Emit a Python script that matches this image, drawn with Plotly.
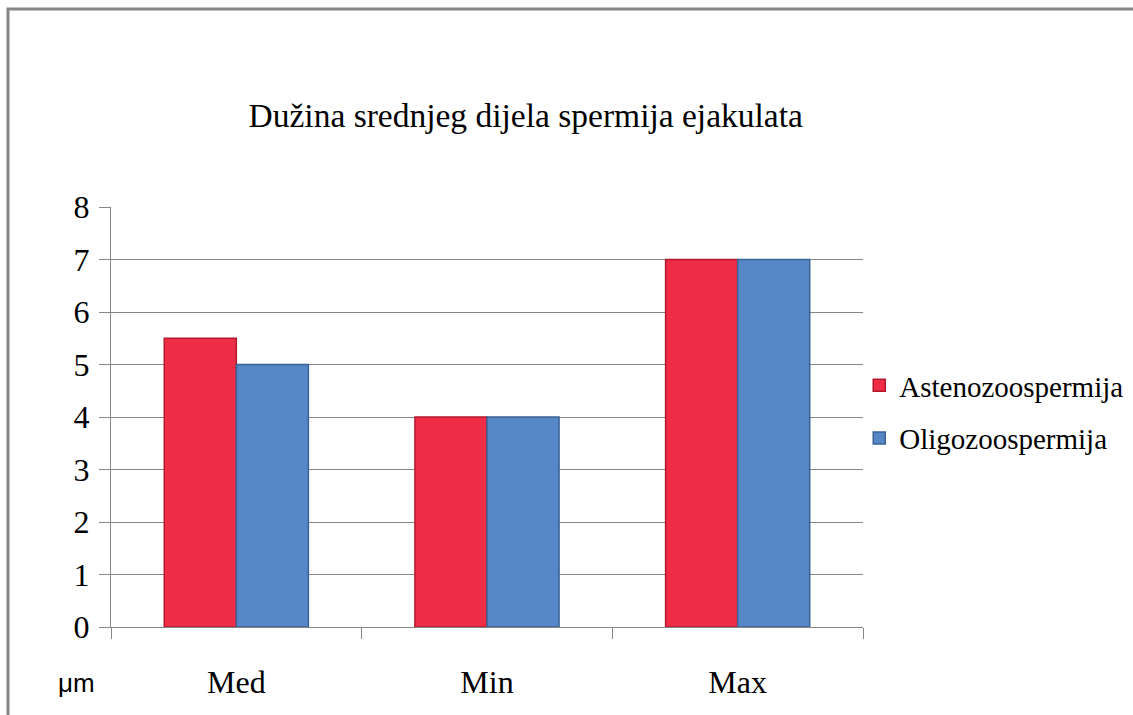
import plotly.graph_objects as go

categories = ["Med", "Min", "Max"]
asteno = [5.5, 4, 7]
oligo = [5, 4, 7]
series_names = ["Astenozoospermija", "Oligozoospermija"]
y_ticks = [0, 1, 2, 3, 4, 5, 6, 7, 8]

font_name = "Liberation Serif"
grid_col = "#868686"

fig = go.Figure()
fig.add_trace(go.Bar(x=categories, y=asteno, name=series_names[0],
                     marker=dict(color="#EF2D47", line=dict(color="#B3182E", width=1.5)),
                     legendgroup="a"))
fig.add_trace(go.Bar(x=categories, y=oligo, name=series_names[1],
                     marker=dict(color="#5687C6", line=dict(color="#3B6396", width=1.5)),
                     legendgroup="b"))

fig.update_layout(
    width=1133, height=715,
    margin=dict(l=111, r=270, t=207, b=88, autoexpand=False),
    paper_bgcolor="white", plot_bgcolor="white",
    barmode="group", bargap=0.425, bargroupgap=0,
    font=dict(family=font_name, color="black"),
    title=dict(text="Dužina srednjeg dijela spermija ejakulata",
               x=0.464, xanchor="center", y=1 - 115 / 715, yanchor="middle",
               yref="container", font=dict(size=33.5, family=font_name)),
    legend=dict(x=0.995, xanchor="left", y=0.512, yanchor="middle",
                font=dict(size=29, family=font_name), tracegroupgap=12,
                itemwidth=30, bgcolor="rgba(0,0,0,0)"),
    showlegend=True,
)

fig.update_xaxes(
    showline=True, linecolor=grid_col, linewidth=1,
    ticks="outside", tickson="boundaries", ticklen=11, tickcolor=grid_col,
    tickfont=dict(size=32, family=font_name), ticklabelstandoff=27,
    showgrid=False,
)
fig.update_yaxes(
    range=[0, 8], tickvals=y_ticks,
    showline=True, linecolor=grid_col, linewidth=1,
    showgrid=True, gridcolor=grid_col, gridwidth=1.3,
    ticks="outside", ticklen=11, tickcolor=grid_col,
    tickfont=dict(size=32, family=font_name), ticklabelstandoff=3,
    zeroline=False,
)

# unit label under the axis
fig.add_annotation(text="μm", xref="paper", yref="paper",
                   x=(76 - 111) / 752, y=-(683 - 627) / 420,
                   xanchor="center", yanchor="middle", showarrow=False,
                   font=dict(size=26, family="Liberation Sans"))

# chart frame (only top and left edges visible in the crop)
fig.add_shape(type="rect", xref="paper", yref="paper",
              x0=(8 - 111) / 752, x1=1.5, y0=-0.5, y1=1 + (207 - 9) / 420,
              line=dict(color=grid_col, width=3), layer="below")

fig.write_html("out.html", config={"displayModeBar": False},
               post_script="document.body.style.margin='0';")
